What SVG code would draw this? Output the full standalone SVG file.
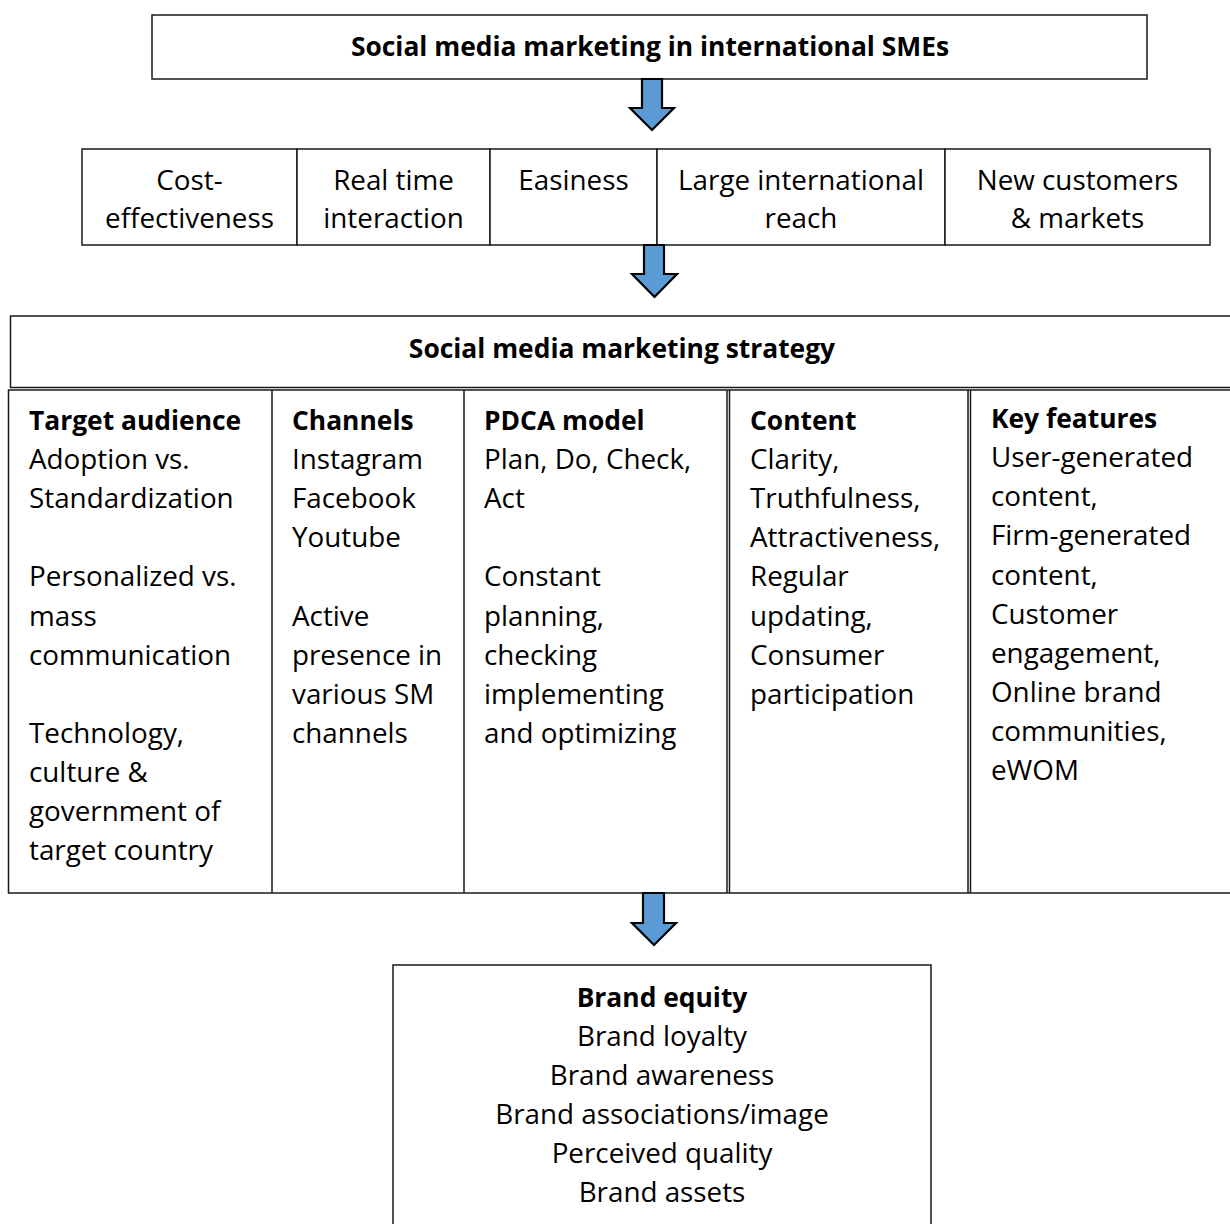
<svg xmlns="http://www.w3.org/2000/svg" width="1230" height="1224" viewBox="0 0 1230 1224">
  <defs>
    <style>
      .box { fill: #ffffff; stroke: #1a1a1a; stroke-width: 1.5; }
      .rule { stroke: #1a1a1a; stroke-width: 1.5; fill: none; }
      .arrow { fill: #5b9bd5; stroke: #000000; stroke-width: 2.2; stroke-linejoin: miter; }
      text { font-family: "Open Sans", "Liberation Sans", Arial, sans-serif; font-size: 27.8px; fill: #000000; }
      .b { font-weight: bold; font-size: 26.4px; }
      .c { text-anchor: middle; }
    </style>
  </defs>
  <rect width="1230" height="1224" fill="#ffffff"/>

  <!-- Title -->
  <g id="title">
    <rect class="box" x="152" y="15" width="995" height="64"/>
    <text class="b c" x="650" y="56">Social media marketing in international SMEs</text>
  </g>

  <!-- Benefits row -->
  <g id="benefit-cost">
    <rect class="box" x="82" y="149" width="215" height="96"/>
    <text class="c" x="189.5" y="190">Cost-</text>
    <text class="c" x="189.5" y="228">effectiveness</text>
  </g>
  <g id="benefit-realtime">
    <rect class="box" x="297" y="149" width="193" height="96"/>
    <text class="c" x="393.5" y="190">Real time</text>
    <text class="c" x="393.5" y="228">interaction</text>
  </g>
  <g id="benefit-easiness">
    <rect class="box" x="490" y="149" width="167" height="96"/>
    <text class="c" x="573.5" y="190">Easiness</text>
  </g>
  <g id="benefit-reach">
    <rect class="box" x="657" y="149" width="288" height="96"/>
    <text class="c" x="801" y="190">Large international</text>
    <text class="c" x="801" y="228">reach</text>
  </g>
  <g id="benefit-customers">
    <rect class="box" x="945" y="149" width="265" height="96"/>
    <text class="c" x="1077.5" y="190">New customers</text>
    <text class="c" x="1077.5" y="228">&amp; markets</text>
  </g>

  <!-- Strategy header -->
  <g id="strategy">
    <path class="rule" d="M1232,316 H10.5 V387.5 H1232"/>
    <text class="b c" x="622" y="358">Social media marketing strategy</text>
  </g>

  <!-- Strategy columns -->
  <g id="strategy-columns">
    <path class="rule" d="M1232,390 H8.5 V893 H1232"/>
    <line class="rule" x1="272" y1="390" x2="272" y2="893"/>
    <line class="rule" x1="464" y1="390" x2="464" y2="893"/>
    <line class="rule" x1="727" y1="390" x2="727" y2="893"/>
    <line class="rule" x1="729.5" y1="390" x2="729.5" y2="893"/>
    <line class="rule" x1="968" y1="390" x2="968" y2="893"/>
    <line class="rule" x1="970.5" y1="390" x2="970.5" y2="893"/>
  </g>

  <g id="col-target-audience">
    <text class="b" x="29" y="430">Target audience</text>
    <text x="29" y="469">Adoption vs.</text>
    <text x="29" y="508">Standardization</text>
    <text x="29" y="586">Personalized vs.</text>
    <text x="29" y="626">mass</text>
    <text x="29" y="665">communication</text>
    <text x="29" y="743">Technology,</text>
    <text x="29" y="782">culture &amp;</text>
    <text x="29" y="821">government of</text>
    <text x="29" y="860">target country</text>
  </g>

  <g id="col-channels">
    <text class="b" x="292" y="430">Channels</text>
    <text x="292" y="469">Instagram</text>
    <text x="292" y="508">Facebook</text>
    <text x="292" y="547">Youtube</text>
    <text x="292" y="626">Active</text>
    <text x="292" y="665">presence in</text>
    <text x="292" y="704">various SM</text>
    <text x="292" y="743">channels</text>
  </g>

  <g id="col-pdca">
    <text class="b" x="484" y="430">PDCA model</text>
    <text x="484" y="469">Plan, Do, Check,</text>
    <text x="484" y="508">Act</text>
    <text x="484" y="586">Constant</text>
    <text x="484" y="626">planning,</text>
    <text x="484" y="665">checking</text>
    <text x="484" y="704">implementing</text>
    <text x="484" y="743">and optimizing</text>
  </g>

  <g id="col-content">
    <text class="b" x="750" y="430">Content</text>
    <text x="750" y="469">Clarity,</text>
    <text x="750" y="508">Truthfulness,</text>
    <text x="750" y="547">Attractiveness,</text>
    <text x="750" y="586">Regular</text>
    <text x="750" y="626">updating,</text>
    <text x="750" y="665">Consumer</text>
    <text x="750" y="704">participation</text>
  </g>

  <g id="col-key-features">
    <text class="b" x="991" y="428">Key features</text>
    <text x="991" y="467">User-generated</text>
    <text x="991" y="506">content,</text>
    <text x="991" y="545">Firm-generated</text>
    <text x="991" y="585">content,</text>
    <text x="991" y="624">Customer</text>
    <text x="991" y="663">engagement,</text>
    <text x="991" y="702">Online brand</text>
    <text x="991" y="741">communities,</text>
    <text x="991" y="780">eWOM</text>
  </g>

  <!-- Brand equity -->
  <g id="brand-equity">
    <rect class="box" x="393" y="965" width="538" height="270"/>
    <text class="b c" x="662" y="1007">Brand equity</text>
    <text class="c" x="662" y="1046">Brand loyalty</text>
    <text class="c" x="662" y="1085">Brand awareness</text>
    <text class="c" x="662" y="1124">Brand associations/image</text>
    <text class="c" x="662" y="1163">Perceived quality</text>
    <text class="c" x="662" y="1202">Brand assets</text>
  </g>

  <!-- Block arrows between stages -->
  <g id="connectors">
    <path class="arrow" d="M642,79 H662 V108 H674 L652,130 L630,108 H642 Z"/>
    <path class="arrow" d="M644,245 H664 V274 H677 L654.5,297 L632,274 H644 Z"/>
    <path class="arrow" d="M643,893 H664 V923 H676 L654,945 L632,923 H643 Z"/>
  </g>
</svg>
